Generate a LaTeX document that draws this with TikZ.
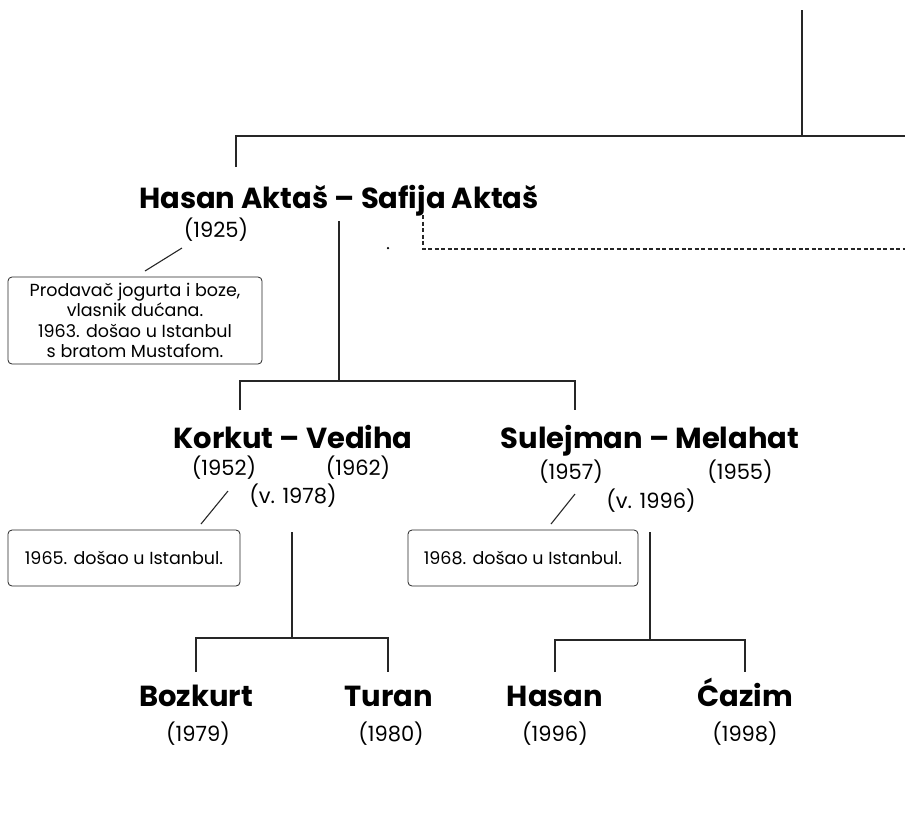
\documentclass[tikz,border=0pt]{standalone}
\usepackage{fontspec}
\setmainfont{Poppins}
\begin{document}
\begin{tikzpicture}[x=1pt,y=-1pt,
  line/.style={line width=1.1pt, draw=black!85},
  couple/.style={font=\bfseries\fontsize{29}{32}\selectfont, anchor=base, inner sep=0pt},
  yr/.style={font=\fontsize{21}{24}\selectfont, anchor=base, inner sep=0pt},
  note/.style={draw=black!85, line width=0.8pt, rounded corners=4pt, align=center,
     font=\fontsize{17.5}{20.5}\selectfont, inner sep=0pt}]
\useasboundingbox (0,0) rectangle (905,828);
% top structure
\coordinate (t0) at (802,10);
\coordinate (t1) at (802,136);
\coordinate (tl) at (236,136);
\coordinate (tr) at (905,136);
\coordinate (tld) at (236,167);
\draw[line] (t0) -- (t1);
\draw[line] (tld) -- (tl) -- (tr);
% grandparents
\node[couple] (hs) at (339,208) {Hasan Aktaš – Safija Aktaš};
\node[yr] (y1925) at (216,237) {(1925)};
\coordinate (s1a) at (182,248);
\coordinate (s1b) at (145,271);
\draw[line] (s1a) -- (s1b);
\node[note, minimum width=254pt, minimum height=87pt] (n1) at (135,320.5)
  {Prodavač jogurta i boze,\\vlasnik dućana.\\1963. došao u Istanbul\\s bratom Mustafom.};
\node[circle, fill=black, inner sep=0pt, minimum size=2.5pt] (dot) at (388,248) {};
\coordinate (d0) at (423,215);
\coordinate (d1) at (423,249);
\coordinate (d2) at (905,249);
\draw[line, dash pattern=on 4pt off 2.5pt] (d0) -- (d1) -- (d2);
% link to children
\coordinate (v0) at (339,221);
\coordinate (v1) at (339,381);
\coordinate (hL) at (240,381);
\coordinate (hR) at (575,381);
\coordinate (hLd) at (240,410);
\coordinate (hRd) at (575,410);
\draw[line] (v0) -- (v1);
\draw[line] (hLd) -- (hL) -- (hR) -- (hRd);
% Korkut
\node[couple] (kv) at (293,448) {Korkut – Vediha};
\node[yr] (y1952) at (224,475) {(1952)};
\node[yr] (y1962) at (358,475) {(1962)};
\node[yr] (v1978) at (293,503) {(v. 1978)};
\coordinate (s2a) at (228,491);
\coordinate (s2b) at (201,524);
\draw[line] (s2a) -- (s2b);
\node[note, minimum width=232pt, minimum height=56pt] (n2) at (124,558) {1965. došao u Istanbul.};
% Sulejman
\node[couple] (sm) at (650,448) {Sulejman – Melahat};
\node[yr] (y1957) at (571,479) {(1957)};
\node[yr] (y1955) at (740,479) {(1955)};
\node[yr] (v1996) at (651,508) {(v. 1996)};
\coordinate (s3a) at (575,494);
\coordinate (s3b) at (551,524);
\draw[line] (s3a) -- (s3b);
\node[note, minimum width=230pt, minimum height=56pt] (n3) at (523,558) {1968. došao u Istanbul.};
% Korkut children
\coordinate (k0) at (292,532);
\coordinate (k1) at (292,638);
\coordinate (kL) at (196,638);
\coordinate (kR) at (388,638);
\coordinate (kLd) at (196,672);
\coordinate (kRd) at (388,672);
\draw[line] (k0) -- (k1);
\draw[line] (kLd) -- (kL) -- (kR) -- (kRd);
% Sulejman children
\coordinate (m0) at (650,532);
\coordinate (m1) at (650,640);
\coordinate (mL) at (555,640);
\coordinate (mR) at (745,640);
\coordinate (mLd) at (555,672);
\coordinate (mRd) at (745,672);
\draw[line] (m0) -- (m1);
\draw[line] (mLd) -- (mL) -- (mR) -- (mRd);
% grandchildren
\node[couple] (bz) at (196,706) {Bozkurt};
\node[yr] (y1979) at (198,741) {(1979)};
\node[couple] (tu) at (389,706) {Turan};
\node[yr] (y1980) at (391,741) {(1980)};
\node[couple] (ha) at (555,706) {Hasan};
\node[yr] (y1996) at (555,741) {(1996)};
\node[couple] (ca) at (745,706) {Ćazim};
\node[yr] (y1998) at (745,741) {(1998)};
\end{tikzpicture}
\end{document}
